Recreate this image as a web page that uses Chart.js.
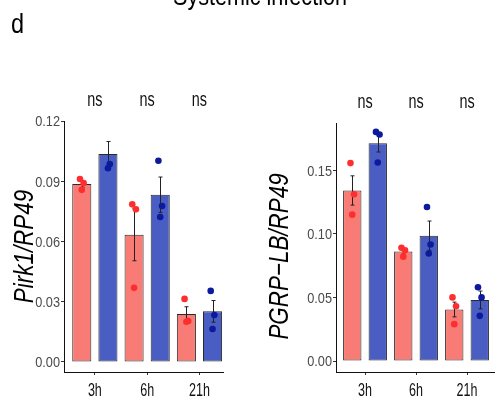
<!DOCTYPE html>
<html>
<head>
<meta charset="utf-8">
<script src="https://cdn.jsdelivr.net/npm/chart.js@4/dist/chart.umd.min.js"></script>
<style>
  html, body { margin: 0; padding: 0; background: #fff; overflow: hidden; width: 495px; height: 400px; }
  #wrap { position: relative; width: 495px; height: 400px; }
  canvas { position: absolute; top: 0; }
  #c1 { left: 0; }
  #c2 { left: 247px; }
</style>
</head>
<body>
<div id="wrap">
  <canvas id="c1" width="495" height="400"></canvas>
  <canvas id="c2" width="263" height="400"></canvas>
</div>
<script>
// ---------------- data ----------------
const categories = ['3h', '6h', '21h'];
const sigLabels = ['ns', 'ns', 'ns'];

// Panel 1: Pirk1/RP49
const pirkTicks = [0.00, 0.03, 0.06, 0.09, 0.12];
const pirkMeanRed  = [0.0886, 0.0634, 0.0239];
const pirkSeRed    = [0.0016, 0.0130, 0.0036];
const pirkMeanBlue = [0.1036, 0.0833, 0.0252];
const pirkSeBlue   = [0.0062, 0.0088, 0.0054];
const pirkDotsRed  = [[0.0911, 0.0891, 0.0857], [0.0785, 0.0760, 0.0369], [0.0314, 0.0204, 0.0200]];
const pirkDotsBlue = [[0.1240, 0.0985, 0.0965], [0.1002, 0.0777, 0.0722], [0.0354, 0.0234, 0.0164]];

// Panel 2: PGRP-LB/RP49
const pgrpTicks = [0.00, 0.05, 0.10, 0.15];
const pgrpMeanRed  = [0.1340, 0.0860, 0.0405];
const pgrpSeRed    = [0.0115, 0.0020, 0.0058];
const pgrpMeanBlue = [0.1710, 0.0985, 0.0480];
const pgrpSeBlue   = [0.0068, 0.0115, 0.0070];
const pgrpDotsRed  = [[0.1555, 0.1310, 0.1150], [0.0890, 0.0870, 0.0820], [0.0500, 0.0430, 0.0290]];
const pgrpDotsBlue = [[0.1800, 0.1780, 0.1560], [0.1210, 0.0915, 0.0845], [0.0580, 0.0500, 0.0355]];

// ---------------- styles ----------------
const RED_BAR = '#F97B75';
const BLUE_BAR = '#4A5DC3';
const RED_DOT = '#FF2E2E';
const BLUE_DOT = '#0C1A9E';
const FAMILY = '"Liberation Sans", Arial, sans-serif';
const JITTER = [-0.035, 0.035, 0.0];   // small horizontal spread of replicate dots (category units)

function barData(means) { return means.map((v, i) => ({ x: i + 1, y: v })); }
function dotData(dots, side) {
  const out = [];
  dots.forEach((arr, i) => arr.forEach((v, j) => out.push({ x: i + 1 + side * 0.25 + JITTER[j], y: v })));
  return out;
}

// condensed text helper (narrow sans look)
function drawText(ctx, text, x, y, o) {
  ctx.save();
  ctx.translate(x, y);
  if (o.rotate) ctx.rotate(o.rotate);
  ctx.scale(o.sx || 1, 1);
  ctx.font = (o.italic ? 'italic ' : '') + o.size + 'px ' + FAMILY;
  ctx.fillStyle = o.color || '#000';
  ctx.textAlign = o.align || 'center';
  ctx.textBaseline = 'alphabetic';
  ctx.fillText(text, 0, 0);
  ctx.restore();
}

const errorBarPlugin = {
  id: 'errorBars',
  afterDatasetDraw(chart, args) {
    const ds = chart.data.datasets[args.index];
    if (!ds.se) return;
    const ctx = chart.ctx, ys = chart.scales.y;
    ctx.save();
    ctx.strokeStyle = '#222';
    ctx.lineWidth = 1;
    args.meta.data.forEach((bar, i) => {
      const m = ds.data[i].y, e = ds.se[i];
      const t = ys.getPixelForValue(m + e), b = ys.getPixelForValue(m - e);
      const x = Math.round(bar.x) + 0.5;
      ctx.beginPath();
      ctx.moveTo(x, t); ctx.lineTo(x, b);
      ctx.moveTo(x - 2, t); ctx.lineTo(x + 2, t);
      ctx.moveTo(x - 2, b); ctx.lineTo(x + 2, b);
      ctx.stroke();
    });
    ctx.restore();
  }
};

const annotPlugin = {
  id: 'annot',
  afterDraw(chart, args, opts) {
    const ctx = chart.ctx, xs = chart.scales.x, ys = chart.scales.y;
    // y tick labels
    ys.ticks.forEach(t => {
      drawText(ctx, t.value.toFixed(2), ys.right - 4, ys.getPixelForValue(t.value) + 5.4,
        { size: 15, sx: 0.85, color: '#4a4a4a', align: 'right' });
    });
    // x tick labels
    xs.ticks.forEach(t => {
      drawText(ctx, categories[Math.round(t.value) - 1], xs.getPixelForValue(t.value), 396,
        { size: 19, sx: 0.66, color: '#111' });
    });
    // significance labels
    sigLabels.forEach((s, i) => drawText(ctx, s, xs.getPixelForValue(i + 1), opts.nsY,
      { size: 20, sx: 0.72, color: '#111' }));
    // y-axis title
    drawText(ctx, opts.title, opts.titleX, opts.titleY,
      { size: 28, sx: 0.8, italic: true, rotate: -Math.PI / 2, color: '#000' });
    if (opts.panelLetter) {
      drawText(ctx, opts.panelLetter, 11, 33, { size: 27, sx: 0.87, align: 'left' });
      drawText(ctx, opts.mainTitle, 260, 5, { size: 26, sx: 0.83 });
    }
  }
};

function makeChart(id, cfg) {
  return new Chart(document.getElementById(id), {
    type: 'bar',
    data: {
      datasets: [
        { type: 'scatter', data: dotData(cfg.dotsRed, -1), backgroundColor: RED_DOT, borderWidth: 0, pointRadius: 3.3, clip: false, order: 1 },
        { type: 'scatter', data: dotData(cfg.dotsBlue, 1), backgroundColor: BLUE_DOT, borderWidth: 0, pointRadius: 3.3, clip: false, order: 1 },
        { type: 'bar', data: barData(cfg.meanRed), se: cfg.seRed, backgroundColor: RED_BAR, borderColor: '#2a2a2a', borderWidth: 1, borderSkipped: false, categoryPercentage: 1.0, barPercentage: cfg.barPct, order: 2 },
        { type: 'bar', data: barData(cfg.meanBlue), se: cfg.seBlue, backgroundColor: BLUE_BAR, borderColor: '#2a2a2a', borderWidth: 1, borderSkipped: false, categoryPercentage: 1.0, barPercentage: cfg.barPct, order: 2 }
      ]
    },
    options: {
      responsive: false,
      animation: false,
      events: [],
      layout: { padding: { left: 0, right: cfg.padRight, top: cfg.padTop, bottom: 0 } },
      plugins: {
        legend: { display: false },
        tooltip: { enabled: false },
        annot: cfg.annot
      },
      scales: {
        x: {
          type: 'linear',
          offset: false,
          min: cfg.xMin, max: cfg.xMax,
          afterBuildTicks: s => { s.ticks = categories.map((c, i) => ({ value: i + 1 })); },
          afterFit: s => { s.height = 28; },
          ticks: { display: false },
          grid: { offset: false, drawOnChartArea: false, drawTicks: true, tickLength: 3, color: '#333' },
          border: { display: true, color: '#111', width: 1 }
        },
        y: {
          min: cfg.yMin, max: cfg.yMax,
          afterBuildTicks: s => { s.ticks = cfg.ticks.map(v => ({ value: v })); },
          afterFit: s => { s.width = cfg.yWidth; },
          ticks: { display: false },
          grid: { drawOnChartArea: false, drawTicks: true, tickLength: 3, color: '#333' },
          border: { display: true, color: '#111', width: 1 }
        }
      }
    },
    plugins: [errorBarPlugin, annotPlugin]
  });
}

makeChart('c1', {
  meanRed: pirkMeanRed, seRed: pirkSeRed, meanBlue: pirkMeanBlue, seBlue: pirkSeBlue,
  dotsRed: pirkDotsRed, dotsBlue: pirkDotsBlue, ticks: pirkTicks,
  yMin: -0.005, yMax: 0.12, xMin: 0.41, xMax: 3.45,
  yWidth: 64, padRight: 495 - 223, padTop: 121, barPct: 0.73,
  annot: { nsY: 105.5, title: 'Pirk1/RP49', titleX: 32.5, titleY: 246.5, panelLetter: 'd', mainTitle: 'Systemic infection' }
});

makeChart('c2', {
  meanRed: pgrpMeanRed, seRed: pgrpSeRed, meanBlue: pgrpMeanBlue, seBlue: pgrpSeBlue,
  dotsRed: pgrpDotsRed, dotsBlue: pgrpDotsBlue, ticks: pgrpTicks,
  yMin: -0.0086, yMax: 0.187, xMin: 0.431, xMax: 3.588,
  yWidth: 89, padRight: 263 - 250, padTop: 123, barPct: 0.72,
  annot: { nsY: 108, title: 'PGRP\u2212LB/RP49', titleX: 288 - 247, titleY: 256.5 }
});
</script>
</body>
</html>
